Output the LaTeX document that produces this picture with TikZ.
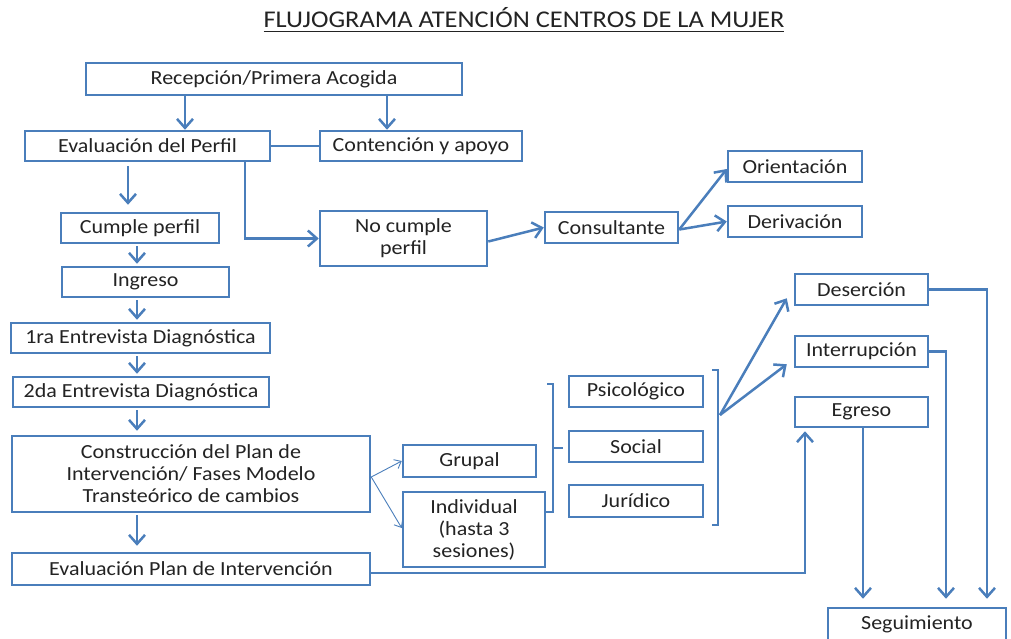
\documentclass[tikz,border=0pt]{standalone}
\usepackage{fontspec}
\setmainfont{Carlito}[FakeStretch=1.1]
\usetikzlibrary{arrows.meta,calc}

\definecolor{frame}{RGB}{74,126,187}
\definecolor{ink}{RGB}{35,35,35}

\tikzset{
    box/.style={
        rectangle,
        draw=frame,
        line width=1.25pt,
        fill=white,
        text=ink,
        align=center,
        inner sep=1pt,
        font=\fontsize{10}{11}\selectfont
    },
    flow/.style={
        -{Straight Barb[length=4.5pt,width=8pt]},
        draw=frame,
        line width=1.25pt
    },
    link/.style={
        draw=frame,
        line width=1.25pt
    },
    thinflow/.style={
        -{Straight Barb[length=3pt,width=5pt]},
        draw=frame,
        line width=0.45pt
    },
    heading/.style={
        font=\fontsize{12}{14}\selectfont,
        text=ink
    }
}

\begin{document}
\begin{tikzpicture}[x=0.5pt, y=-0.5pt]
\useasboundingbox (0,0) rectangle (1011,638);

\node[heading] (title) at (524,20) {\underline{FLUJOGRAMA ATENCIÓN CENTROS DE LA MUJER}};

\node[box, minimum width=188pt, minimum height=16pt] (rec) at (274,79) {Recepción/Primera Acogida};
\node[box, minimum width=122.5pt, minimum height=15pt] (evalp) at (147.5,146) {Evaluación del Perfil};
\node[box, minimum width=101pt, minimum height=15pt] (cont) at (421,146) {Contención y apoyo};
\node[box, minimum width=79pt, minimum height=15pt] (cumple) at (140,228) {Cumple perfil};
\node[box, minimum width=83.5pt, minimum height=27.5pt] (nocumple) at (403.5,238.5) {No cumple\\perfil};
\node[box, minimum width=66.5pt, minimum height=15.5pt] (consult) at (611.5,227.5) {Consultante};
\node[box, minimum width=67pt, minimum height=15.5pt] (orient) at (795,166.5) {Orientación};
\node[box, minimum width=67pt, minimum height=15.5pt] (deriv) at (795,221.5) {Derivación};
\node[box, minimum width=83.5pt, minimum height=15pt] (ingreso) at (145.5,282) {Ingreso};
\node[box, minimum width=129.5pt, minimum height=15pt] (ent1) at (140.5,338) {1ra Entrevista Diagnóstica};
\node[box, minimum width=128pt, minimum height=15pt] (ent2) at (141,392) {2da Entrevista Diagnóstica};
\node[box, minimum width=179pt, minimum height=38pt] (constr) at (191,474) {Construcción del Plan de\\Intervención/ Fases Modelo\\Transteórico de cambios};
\node[box, minimum width=179pt, minimum height=16pt] (evalplan) at (191,569) {Evaluación Plan de Intervención};
\node[box, minimum width=66.5pt, minimum height=16pt] (grupal) at (469.5,461) {Grupal};
\node[box, minimum width=71pt, minimum height=37.5pt] (indiv) at (474,529.5) {Individual\\(hasta 3\\sesiones)};
\node[box, minimum width=67pt, minimum height=15.5pt] (psico) at (636,391.5) {Psicológico};
\node[box, minimum width=67pt, minimum height=15.5pt] (social) at (636,446.5) {Social};
\node[box, minimum width=67pt, minimum height=16pt] (juri) at (636,501) {Jurídico};
\node[box, minimum width=66.5pt, minimum height=15.5pt] (deser) at (861.5,289.5) {Deserción};
\node[box, minimum width=66.5pt, minimum height=15.5pt] (interr) at (861.5,351.5) {Interrupción};
\node[box, minimum width=66.5pt, minimum height=15pt] (egreso) at (861.5,412) {Egreso};
\node[box, minimum width=89pt, minimum height=16pt] (segui) at (917,624) {Seguimiento};

\coordinate (colA) at (185,0);
\coordinate (colB) at (387,0);
\coordinate (colC) at (128,0);
\coordinate (colD) at (245,0);
\coordinate (colE) at (137,0);
\coordinate (colF) at (805,0);
\coordinate (colG) at (863,0);
\coordinate (colH) at (946,0);
\coordinate (colI) at (987,0);
\coordinate (brk1) at (553,448);
\coordinate (brk2) at (720,415);

\draw[flow] (rec.south -| colA) -- (evalp.north -| colA);
\draw[flow] (rec.south -| colB) -- (cont.north -| colB);
\draw[link] (evalp.east) -- (cont.west);
\draw[flow, shorten <=2pt, shorten >=3.5pt] (evalp.south -| colC) -- (cumple.north -| colC);
\draw[flow] (evalp.south -| colD) |- (nocumple.west);
\draw[flow] ([yshift=-1.5pt]nocumple.east) -- (consult.west);
\draw[flow] ([yshift=-1pt]consult.east) -- ([yshift=-1.25pt]orient.west);
\draw[flow] ([yshift=-1pt]consult.east) -- (deriv.west);

\draw[flow, shorten <=1pt, shorten >=1pt] (cumple.south -| colE) -- (ingreso.north -| colE);
\draw[flow, shorten <=1pt, shorten >=1pt] (ingreso.south -| colE) -- (ent1.north -| colE);
\draw[flow, shorten <=1pt, shorten >=1pt] (ent1.south -| colE) -- (ent2.north -| colE);
\draw[flow, shorten <=1pt, shorten >=2pt] (ent2.south -| colE) -- (constr.north -| colE);
\draw[flow, shorten <=1pt, shorten >=3pt] (constr.south -| colE) -- (evalplan.north -| colE);

\draw[thinflow] ([yshift=-1.5pt]constr.east) -- (grupal.west);
\draw[thinflow] ([yshift=-1.5pt]constr.east) -- ([yshift=0.75pt]indiv.west);

\draw[link] (547,384) -- (553,384) -- (553,512) -- (545,512);
\draw[link] (brk1) -- ++(10,0);
\draw[link] (712,370) -- (718,370) -- (718,525) -- (712,525);
\draw[flow] (brk2) -- ([xshift=-3.5pt, yshift=4pt]deser.south west);
\draw[flow] (brk2) -- ([xshift=-3.5pt, yshift=2pt]interr.south west);

\draw[flow, shorten >=1.5pt] ([yshift=-2pt]evalplan.east) -| (egreso.south -| colF);
\draw[flow, shorten >=4pt] (egreso.south -| colG) -- (segui.north -| colG);
\draw[flow, shorten >=4pt] (interr.east) -| (segui.north -| colH);
\draw[flow, shorten >=4pt] (deser.east) -| (segui.north -| colI);

\end{tikzpicture}
\end{document}
